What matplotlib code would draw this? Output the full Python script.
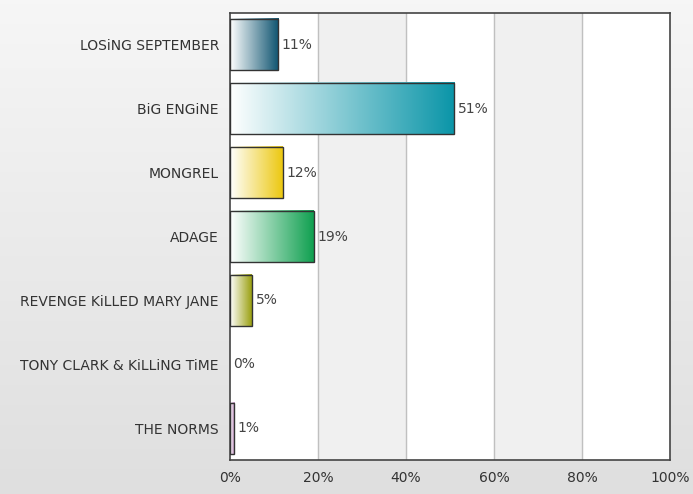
import numpy as np
import matplotlib.pyplot as plt
from matplotlib.colors import LinearSegmentedColormap

bands = ['LOSiNG SEPTEMBER', 'BiG ENGiNE', 'MONGREL', 'ADAGE',
         'REVENGE KiLLED MARY JANE', 'TONY CLARK & KiLLiNG TiME', 'THE NORMS']
percent = [11, 51, 12, 19, 5, 0, 1]
colors = ['#0e5470', '#0a95a8', '#ecc810', '#10a050', '#9aa010', '#888888', '#c08ac0']

fig = plt.figure(figsize=(6.93, 4.94), dpi=100)
# background gradient
bg = fig.add_axes([0, 0, 1, 1], zorder=-10)
bg.imshow(np.linspace(0, 1, 100).reshape(-1, 1), aspect='auto', extent=[0, 1, 0, 1],
          cmap=LinearSegmentedColormap.from_list('bg', ['#f6f6f6', '#dfdfdf']))
bg.axis('off')

ax = fig.add_axes([230/693, 1 - 460/494, 440/693, 447/494])
ax.set_facecolor('white')
ax.set_xlim(0, 100)
ax.set_ylim(len(bands) - 0.5, -0.5)
for x0 in (20, 60):
    ax.axvspan(x0, x0 + 20, color='#f0f0f0', zorder=0)
for x in (20, 40, 60, 80):
    ax.axvline(x, color='#c0c0c0', lw=1, zorder=1)

h = 0.8
grad = np.linspace(0, 1, 256).reshape(1, -1)
for i, (v, c) in enumerate(zip(percent, colors)):
    if v > 0:
        cm = LinearSegmentedColormap.from_list('b%d' % i, ['#ffffff', c])
        ax.imshow(grad, aspect='auto', cmap=cm, extent=[0, v, i + h/2, i - h/2], zorder=2)
        ax.add_patch(plt.Rectangle((0, i - h/2), v, h, fill=False, ec='#333333', lw=1, zorder=3))
    ax.text(v + 0.8, i, '%d%%' % v, va='center', ha='left', fontsize=10, color='#444444', zorder=4)

ax.set_xlim(0, 100)
ax.set_ylim(len(bands) - 0.5, -0.5)
ax.set_yticks(range(len(bands)))
ax.set_yticklabels(bands, fontsize=10, color='#333333')
ax.set_xticks([0, 20, 40, 60, 80, 100])
ax.set_xticklabels(['%d%%' % t for t in [0, 20, 40, 60, 80, 100]], fontsize=10, color='#333333')
ax.tick_params(length=0, pad=8)
for s in ax.spines.values():
    s.set_color('#444444')
    s.set_linewidth(1.2)
fig.savefig('out.png', dpi=100)
